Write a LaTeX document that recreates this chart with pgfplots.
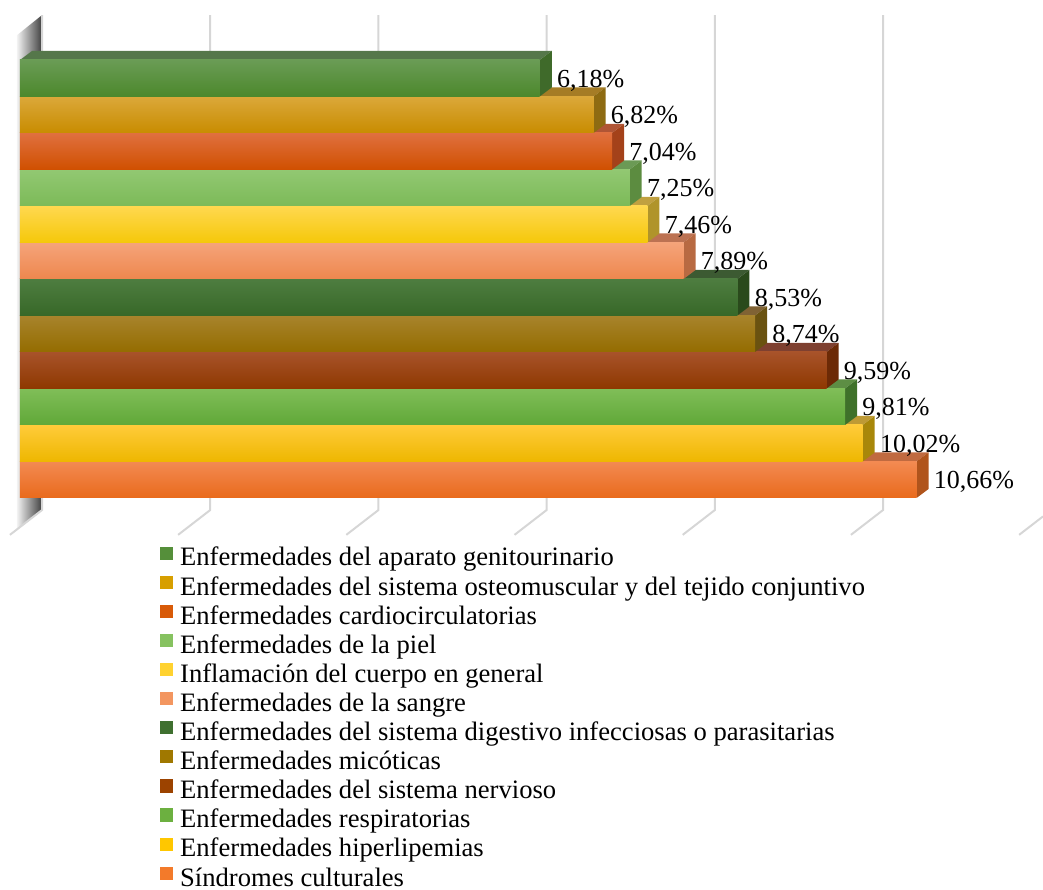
\documentclass[border=0pt]{standalone}
\usepackage{fontspec}
\setmainfont{Liberation Serif}
\usepackage{pgfplots}
\pgfplotsset{compat=1.18}

% bar colours: front (top / middle / bottom), side face, top face
\definecolor{genhi}{HTML}{6A9C55}\definecolor{genmid}{HTML}{558F3A}\definecolor{genlo}{HTML}{4C882C}\definecolor{genside}{HTML}{3F6A2A}\definecolor{gentop}{HTML}{55774A}
\definecolor{osthi}{HTML}{DBA83A}\definecolor{ostmid}{HTML}{D79F00}\definecolor{ostlo}{HTML}{C88C00}\definecolor{ostside}{HTML}{8E6B12}\definecolor{osttop}{HTML}{A57C25}
\definecolor{carhi}{HTML}{E0703F}\definecolor{carmid}{HTML}{D85A08}\definecolor{carlo}{HTML}{D05000}\definecolor{carside}{HTML}{A4421A}\definecolor{cartop}{HTML}{B05535}
\definecolor{pielhi}{HTML}{92C872}\definecolor{pielmid}{HTML}{86C260}\definecolor{piello}{HTML}{7CBA58}\definecolor{pielside}{HTML}{5C8C40}\definecolor{pieltop}{HTML}{6B9A55}
\definecolor{infhi}{HTML}{FFD84F}\definecolor{infmid}{HTML}{FFD230}\definecolor{inflo}{HTML}{F5C80A}\definecolor{infside}{HTML}{B0942A}\definecolor{inftop}{HTML}{C0A040}
\definecolor{sanhi}{HTML}{F5A47A}\definecolor{sanmid}{HTML}{F39660}\definecolor{sanlo}{HTML}{EE874E}\definecolor{sanside}{HTML}{B86A42}\definecolor{santop}{HTML}{BC7252}
\definecolor{dighi}{HTML}{4E7D40}\definecolor{digmid}{HTML}{3F7030}\definecolor{diglo}{HTML}{376828}\definecolor{digside}{HTML}{2A4A1C}\definecolor{digtop}{HTML}{3C5A32}
\definecolor{michi}{HTML}{A8842C}\definecolor{micmid}{HTML}{A07800}\definecolor{miclo}{HTML}{946C00}\definecolor{micside}{HTML}{6A5210}\definecolor{mictop}{HTML}{806234}
\definecolor{nerhi}{HTML}{A8532A}\definecolor{nermid}{HTML}{9C4300}\definecolor{nerlo}{HTML}{8E3800}\definecolor{nerside}{HTML}{6C2A06}\definecolor{nertop}{HTML}{7E4030}
\definecolor{reshi}{HTML}{80BE58}\definecolor{resmid}{HTML}{6CB040}\definecolor{reslo}{HTML}{60A838}\definecolor{resside}{HTML}{3F712A}\definecolor{restop}{HTML}{5D8E44}
\definecolor{hiphi}{HTML}{FFCB3A}\definecolor{hipmid}{HTML}{FFC700}\definecolor{hiplo}{HTML}{EEB700}\definecolor{hipside}{HTML}{A8870A}\definecolor{hiptop}{HTML}{BE9A35}
\definecolor{culhi}{HTML}{F38A52}\definecolor{culmid}{HTML}{F37A2A}\definecolor{cullo}{HTML}{E96A1C}\definecolor{culside}{HTML}{B0541C}\definecolor{cultop}{HTML}{C06A40}
\definecolor{gridc}{HTML}{D6D6D6}

% depth of the 3-D bars, in axis units
\def\dx{0.1427}
\def\dy{0.2466}

% one 3-D bar: #1 position, #2 value (%), #3 colour prefix
\newcommand{\threedbar}[3]{%
  \pgfmathsetmacro\yb{#1-0.5}%
  \pgfmathsetmacro\yt{#1+0.5}%
  \pgfmathsetmacro\ybb{#1-0.5+\dy}%
  \pgfmathsetmacro\ytt{#1+0.5+\dy}%
  \pgfmathsetmacro\xe{#2+\dx}%
  \addplot[forget plot, draw=none, fill=#3top]
    coordinates {(0,\yt) (#2,\yt) (\xe,\ytt) (\dx,\ytt)} -- cycle;
  \addplot[forget plot, draw=none, fill=#3side]
    coordinates {(#2,\yb) (\xe,\ybb) (\xe,\ytt) (#2,\yt)} -- cycle;
  \addplot[forget plot, xbar, bar width=1, draw=none,
    top color=#3hi, middle color=#3mid, bottom color=#3lo]
    coordinates {(#2,#1)};
}

\begin{document}
\begin{tikzpicture}
\begin{axis}[
  scale only axis, width=521.5pt, height=270pt,
  xmin=-0.2378, xmax=12.164, ymin=-1.651, ymax=13.144,
  axis line style={draw=none}, xtick=\empty, ytick=\empty,
  clip=true,
  legend cell align=left,
  legend style={at={(0.1534,-0.0122)}, anchor=north west, draw=none, fill=none,
    inner sep=0pt, outer sep=0pt, font=\fontsize{13.3}{15}\selectfont,
    row sep=3.05pt,
    nodes={inner sep=0pt, text height=9.2pt, text depth=1.8pt},
    /tikz/every odd column/.style={column sep=3.5pt}},
  legend image code/.code={\fill[#1, draw=none] (0pt,-0.6pt) rectangle (6.6pt,6pt);},
]
% side wall, in shadow
\addplot[forget plot, draw=none, left color=gray!10, right color=black!75]
  coordinates {(-0.036,12.18) (0.262,12.73) (0.262,-0.83) (-0.036,-1.377)} -- cycle;
% grid lines on back wall and floor
\addplot[forget plot, gridc, line width=1pt] coordinates {(0.262,12.73) (0.262,-0.83) (-0.12,-1.51)};
\addplot[forget plot, gridc, line width=1pt] coordinates {(2.262,12.73) (2.262,-0.83) (1.88,-1.51)};
\addplot[forget plot, gridc, line width=1pt] coordinates {(4.262,12.73) (4.262,-0.83) (3.88,-1.51)};
\addplot[forget plot, gridc, line width=1pt] coordinates {(6.262,12.73) (6.262,-0.83) (5.88,-1.51)};
\addplot[forget plot, gridc, line width=1pt] coordinates {(8.262,12.73) (8.262,-0.83) (7.88,-1.51)};
\addplot[forget plot, gridc, line width=1pt] coordinates {(10.262,12.73) (10.262,-0.83) (9.88,-1.51)};
\addplot[forget plot, gridc, line width=1pt] coordinates {(12.164,-1.005) (11.88,-1.51)};

% bars, drawn from the bottom up
\threedbar{0}{10.66}{cul}
\threedbar{1}{10.02}{hip}
\threedbar{2}{9.81}{res}
\threedbar{3}{9.59}{ner}
\threedbar{4}{8.74}{mic}
\threedbar{5}{8.53}{dig}
\threedbar{6}{7.89}{san}
\threedbar{7}{7.46}{inf}
\threedbar{8}{7.25}{piel}
\threedbar{9}{7.04}{car}
\threedbar{10}{6.82}{ost}
\threedbar{11}{6.18}{gen}

% value labels
\addplot[forget plot, draw=none, mark=none, point meta=x,
  nodes near coords={\pgfmathprintnumber[fixed, fixed zerofill, precision=2, use comma, assume math mode=true]{\pgfplotspointmeta}\%},
  nodes near coords style={anchor=base west, xshift=8.5pt, yshift=-4.5pt, inner sep=0pt,
    font=\fontsize{13}{15}\selectfont}]
  coordinates {(10.66,0) (10.02,1) (9.81,2) (9.59,3) (8.74,4) (8.53,5)
               (7.89,6) (7.46,7) (7.25,8) (7.04,9) (6.82,10) (6.18,11)};

% legend
\addlegendimage{fill=genmid}
\addlegendimage{fill=ostmid}
\addlegendimage{fill=carmid}
\addlegendimage{fill=pielmid}
\addlegendimage{fill=infmid}
\addlegendimage{fill=sanmid}
\addlegendimage{fill=digmid}
\addlegendimage{fill=micmid}
\addlegendimage{fill=nermid}
\addlegendimage{fill=resmid}
\addlegendimage{fill=hipmid}
\addlegendimage{fill=culmid}
\legend{Enfermedades del aparato genitourinario,
  Enfermedades del sistema osteomuscular y del tejido conjuntivo,
  Enfermedades cardiocirculatorias,
  Enfermedades de la piel,
  Inflamación del cuerpo en general,
  Enfermedades de la sangre,
  Enfermedades del sistema digestivo infecciosas o parasitarias,
  Enfermedades micóticas,
  Enfermedades del sistema nervioso,
  Enfermedades respiratorias,
  Enfermedades hiperlipemias,
  Síndromes culturales}
\end{axis}
\end{tikzpicture}
\end{document}
